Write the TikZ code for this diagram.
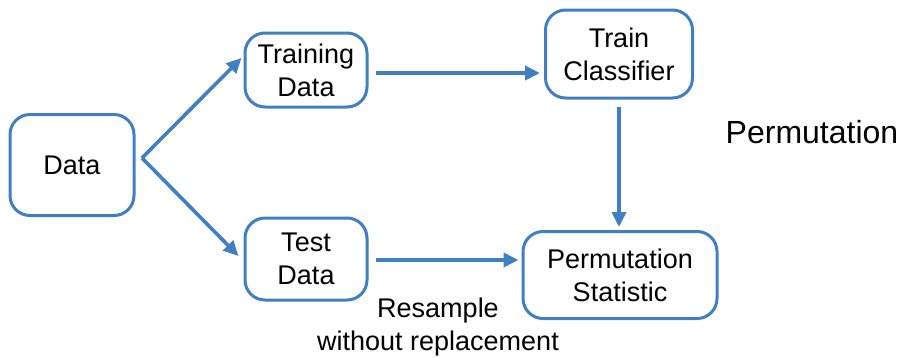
\documentclass[tikz,border=0pt]{standalone}
\usepackage{fontspec}
\setmainfont{Liberation Sans}
\usetikzlibrary{arrows.meta,calc}
\definecolor{boxblue}{HTML}{3F7FC2}
\tikzset{
  box/.style={draw=boxblue, line width=3pt, rounded corners=20pt, align=center,
    font=\fontsize{27}{33}\selectfont, inner sep=0pt},
  conn/.style={draw=boxblue, line width=3.6pt, -{Triangle[length=15pt,width=14pt]}},
  lbl/.style={font=\fontsize{27}{33}\selectfont, align=center, inner sep=0pt}
}
\begin{document}
\begin{tikzpicture}[x=1pt,y=-1pt]
\useasboundingbox (0,0) rectangle (904,357);
\node[box, minimum width=124pt, minimum height=101pt] (data) at (72,165) {Data};
\node[box, minimum width=122pt, minimum height=74pt] (tr) at (306,70) {Training\\Data};
\node[box, minimum width=147pt, minimum height=88pt] (tc) at (619,54) {Train\\Classifier};
\node[box, minimum width=122pt, minimum height=82pt] (te) at (306,259) {Test\\Data};
\node[box, minimum width=194pt, minimum height=87pt] (ps) at (620,275) {Permutation\\Statistic};
\node[lbl, font=\fontsize{32}{38}\selectfont] (perm) at (812,132) {Permutation};
\node[lbl] (rs) at (438,327) {Resample\\without replacement};
\coordinate (s) at (142,158);
\draw[conn] (s) -- ($(tr.west)+(-2,-12)$);
\draw[conn] (s) -- ($(te.west)+(-5,-3)$);
\draw[conn] ($(tr.east)+(7,3)$) -- ($(tc.west)+(-4,19)$);
\draw[conn] ($(tc.south)+(0,7)$) -- ($(ps.north)+(-1,-3)$);
\draw[conn] ($(te.east)+(7,1)$) -- ($(ps.west)+(-3,-15)$);
\end{tikzpicture}
\end{document}
